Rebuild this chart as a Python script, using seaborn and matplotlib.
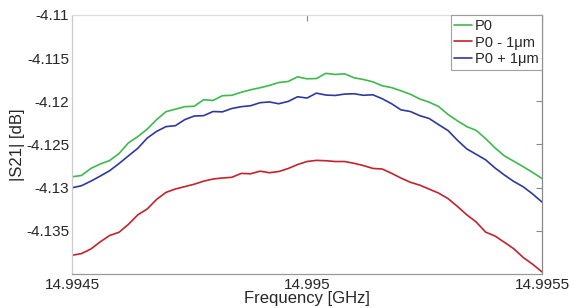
import numpy as np
import pandas as pd
import seaborn as sns
import matplotlib.pyplot as plt

# Frequency sweep [GHz]
freq = [
    14.99450, 14.99452, 14.99454, 14.99456, 14.99458, 14.99460, 14.99462, 14.99464, 14.99466, 14.99468,
    14.99470, 14.99472, 14.99474, 14.99476, 14.99478, 14.99480, 14.99482, 14.99484, 14.99486, 14.99488,
    14.99490, 14.99492, 14.99494, 14.99496, 14.99498, 14.99500, 14.99502, 14.99504, 14.99506, 14.99508,
    14.99510, 14.99512, 14.99514, 14.99516, 14.99518, 14.99520, 14.99522, 14.99524, 14.99526, 14.99528,
    14.99530, 14.99532, 14.99534, 14.99536, 14.99538, 14.99540, 14.99542, 14.99544, 14.99546, 14.99548,
    14.99550,
]

# |S21| [dB] for each position
s21_p0 = [
    -4.12874, -4.12859, -4.12778, -4.12726, -4.12686, -4.12605, -4.12481, -4.12409, -4.12322, -4.12212,
    -4.12120, -4.12091, -4.12062, -4.12057, -4.11981, -4.11990, -4.11935, -4.11930, -4.11895, -4.11866,
    -4.11843, -4.11816, -4.11782, -4.11770, -4.11716, -4.11739, -4.11736, -4.11676, -4.11689, -4.11681,
    -4.11727, -4.11747, -4.11774, -4.11820, -4.11841, -4.11878, -4.11918, -4.11973, -4.12010, -4.12060,
    -4.12152, -4.12226, -4.12293, -4.12337, -4.12432, -4.12539, -4.12632, -4.12694, -4.12757, -4.12824,
    -4.12894,
]
s21_minus = [
    -4.13783, -4.13764, -4.13711, -4.13628, -4.13554, -4.13517, -4.13425, -4.13315, -4.13247, -4.13136,
    -4.13055, -4.13015, -4.12988, -4.12960, -4.12925, -4.12900, -4.12888, -4.12880, -4.12835, -4.12839,
    -4.12809, -4.12827, -4.12813, -4.12778, -4.12732, -4.12697, -4.12684, -4.12688, -4.12697, -4.12697,
    -4.12718, -4.12744, -4.12777, -4.12784, -4.12834, -4.12889, -4.12938, -4.12971, -4.13017, -4.13063,
    -4.13127, -4.13217, -4.13315, -4.13398, -4.13515, -4.13560, -4.13633, -4.13708, -4.13809, -4.13887,
    -4.13976,
]
s21_plus = [
    -4.13001, -4.12978, -4.12925, -4.12866, -4.12804, -4.12721, -4.12632, -4.12544, -4.12426, -4.12348,
    -4.12293, -4.12282, -4.12212, -4.12170, -4.12166, -4.12118, -4.12122, -4.12083, -4.12062, -4.12051,
    -4.12016, -4.12007, -4.12028, -4.12001, -4.11947, -4.11962, -4.11905, -4.11927, -4.11932, -4.11916,
    -4.11912, -4.11930, -4.11924, -4.11970, -4.12028, -4.12099, -4.12118, -4.12166, -4.12199, -4.12270,
    -4.12338, -4.12451, -4.12551, -4.12614, -4.12677, -4.12772, -4.12854, -4.12928, -4.12990, -4.13073,
    -4.13167,
]

labels = ['P0', 'P0 - 1\u03bcm', 'P0 + 1\u03bcm']
colors = {'P0': '#3cba4c', 'P0 - 1\u03bcm': '#c4222c', 'P0 + 1\u03bcm': '#2c3a9f'}

xticks = [14.9945, 14.995, 14.9955]
xticklabels = ['14.9945', '14.995', '14.9955']
yticks = [-4.135, -4.13, -4.125, -4.12, -4.115, -4.11]
yticklabels = ['-4.135', '-4.13', '-4.125', '-4.12', '-4.115', '-4.11']

df = pd.DataFrame({
    'freq': freq * 3,
    's21': s21_p0 + s21_minus + s21_plus,
    'trace': [labels[0]] * len(freq) + [labels[1]] * len(freq) + [labels[2]] * len(freq),
})

sns.set_style('white')
plt.rcParams['font.family'] = ['Liberation Sans', 'DejaVu Sans']

fig = plt.figure(figsize=(5.7, 3.08), dpi=100)
ax = fig.add_axes([0.1263, 0.1104, 0.8246, 0.8409])

sns.lineplot(data=df, x='freq', y='s21', hue='trace', hue_order=labels,
             palette=colors, linewidth=1.2, ax=ax, legend=False, sort=False)

ax.set_xlim(14.9945, 14.9955)
ax.set_ylim(-4.14, -4.11)
ax.set_xticks(xticks)
ax.set_xticklabels(xticklabels)
ax.set_yticks(yticks)
ax.set_yticklabels(yticklabels)
ax.tick_params(direction='in', top=True, right=True, length=4, width=0.8,
               color='#888888', labelsize=11, pad=2)
ax.tick_params(axis='x', pad=3)

ax.set_xlabel('Frequency [GHz]', fontsize=12, labelpad=-1)
ax.set_ylabel('|S21| [dB]', fontsize=12, labelpad=1)

ax.spines['top'].set_color('#dddddd')
ax.spines['left'].set_color('#cccccc')
ax.spines['right'].set_color('#888888')
ax.spines['bottom'].set_color('#999999')
for s in ax.spines.values():
    s.set_linewidth(0.9)

handles = [plt.Line2D([], [], color=colors[l], lw=1.2) for l in labels]
leg = ax.legend(handles, labels, loc='upper right', fontsize=10.5, frameon=True,
                fancybox=False, borderaxespad=0, handlelength=1.2, handletextpad=0.2,
                borderpad=0.25, labelspacing=0.2)
leg.get_frame().set_edgecolor('#888888')
leg.get_frame().set_linewidth(0.8)

fig.savefig('out.png', dpi=100)
